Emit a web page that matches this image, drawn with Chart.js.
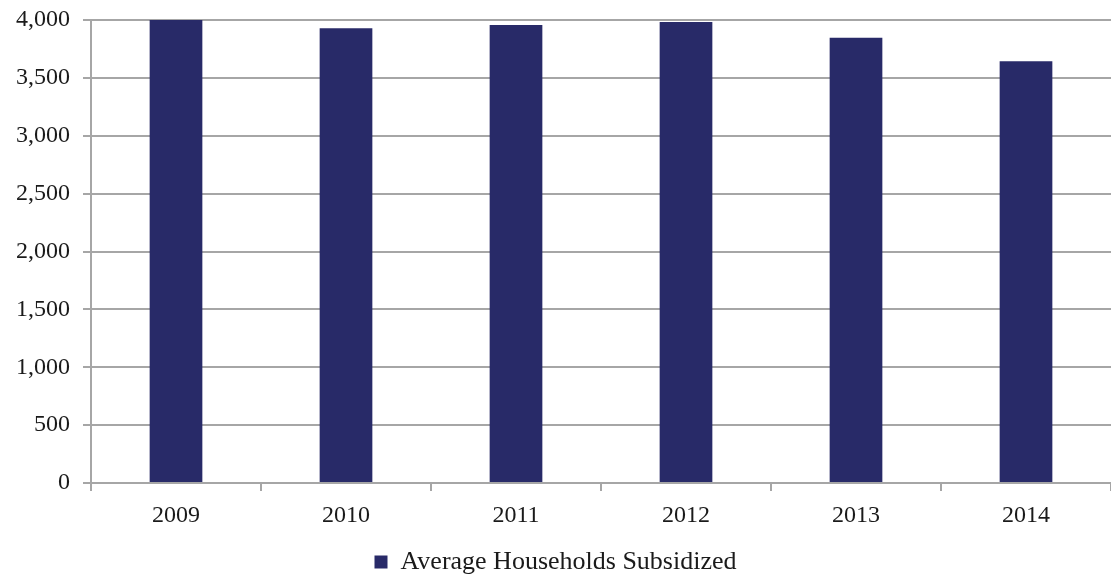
<!DOCTYPE html>
<html>
<head>
<meta charset="utf-8">
<script src="https://cdn.jsdelivr.net/npm/chart.js@4"></script>
<style>
  html, body { margin: 0; padding: 0; background: #fff; }
  #wrap { width: 1111px; height: 578px; position: relative; }
</style>
</head>
<body>
<div id="wrap"><canvas id="chart-households"></canvas></div>
<script>
// Average households subsidized per year
const years = ['2009', '2010', '2011', '2012', '2013', '2014'];
const households = [4000, 3928, 3957, 3982, 3847, 3643];
const seriesLabel = 'Average Households Subsidized';

const barColor = '#282a68';
const gridColor = '#a6a6a6';
const textColor = '#1a1a1a';
const fontFamily = "'Liberation Serif', 'DejaVu Serif', serif";

new Chart(document.getElementById('chart-households'), {
  type: 'bar',
  data: {
    labels: years,
    datasets: [{
      label: seriesLabel,
      data: households,
      backgroundColor: barColor,
      borderWidth: 0,
      categoryPercentage: 1,
      barPercentage: 0.31
    }]
  },
  options: {
    responsive: true,
    maintainAspectRatio: false,
    animation: false,
    // legend sits a little lower than chart.js puts it by default
    layout: { padding: { top: 0, left: 0, right: 0, bottom: -7 } },
    plugins: {
      tooltip: { enabled: false },
      legend: {
        position: 'bottom',
        labels: {
          color: textColor,
          font: { family: fontFamily, size: 26, lineHeight: 1 },
          boxWidth: 13,
          boxHeight: 13,
          padding: 2
        }
      }
    },
    scales: {
      x: {
        afterFit: s => { s.height = 64; },
        grid: { drawOnChartArea: false, drawTicks: true, tickLength: 8, color: gridColor, lineWidth: 2 },
        border: { color: gridColor, width: 2 },
        ticks: { color: textColor, padding: 10, font: { family: fontFamily, size: 24 } }
      },
      y: {
        min: 0,
        max: 4000,
        afterFit: s => {
          s.width = 91;
          // keep the top gridline at the same height as the original
          s.paddingTop = 20;
          s.paddingBottom = 0;
        },
        grid: { color: gridColor, lineWidth: 2, tickLength: 8 },
        border: { color: gridColor, width: 2 },
        ticks: { stepSize: 500, color: textColor, padding: 13, font: { family: fontFamily, size: 24 } }
      }
    }
  }
});
</script>
</body>
</html>
